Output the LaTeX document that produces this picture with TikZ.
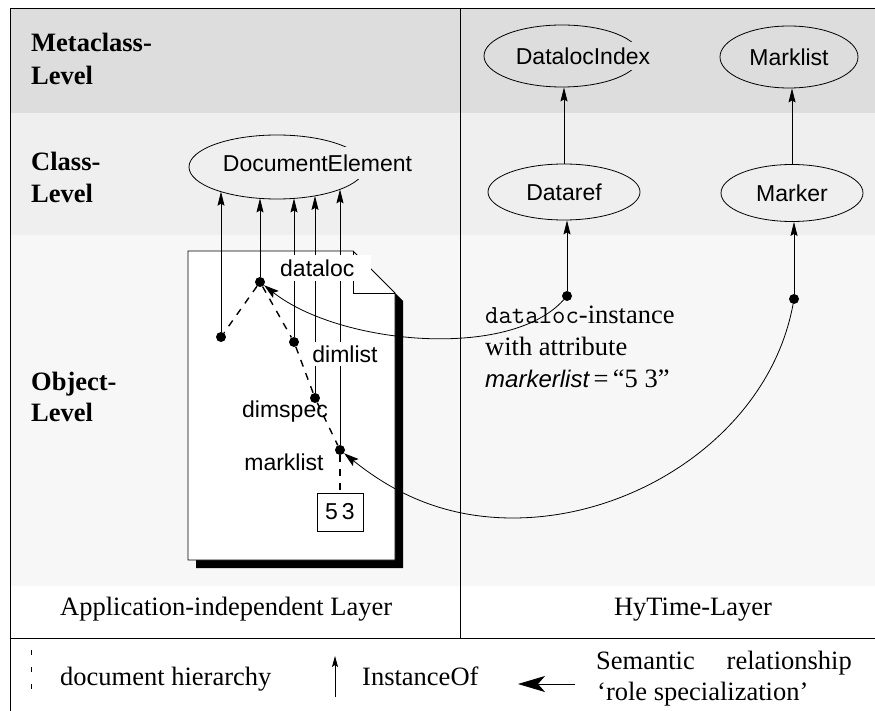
\documentclass[tikz,border=0pt]{standalone}
\usepackage{fontspec}
\setmainfont{Liberation Serif}
\setsansfont{Liberation Sans}
\usetikzlibrary{arrows.meta,shapes.geometric}
\definecolor{metagray}{RGB}{221,221,221}
\definecolor{classgray}{RGB}{239,239,239}
\definecolor{objgray}{RGB}{247,247,247}
\begin{document}
\begin{tikzpicture}[x=1pt,y=-1pt,
  sertext/.style={font=\fontsize{26.5}{30}\selectfont, inner sep=0pt},
  levellbl/.style={font=\fontsize{26.5}{30}\selectfont\bfseries, inner sep=0pt, anchor=base west},
  sanslbl/.style={font=\fontsize{23}{28}\selectfont\sffamily, inner sep=0pt},
  ell/.style={draw, ellipse, line width=0.8pt, inner sep=0pt, font=\fontsize{23}{28}\selectfont\sffamily},
  pdot/.style={circle, fill=black, inner sep=0pt, minimum size=10pt},
  inst/.style={-{Stealth[length=14pt,width=7pt,inset=2pt]}, line width=0.8pt},
  role/.style={-{Stealth[length=15pt,width=9pt,inset=3pt]}, line width=0.8pt},
  hier/.style={line width=1.4pt, dash pattern=on 7pt off 7pt},
  frameline/.style={line width=1pt}
]
\useasboundingbox (0,0) rectangle (875,711);
\clip (0,0) rectangle (875,711);
% bands
\fill[metagray] (10,9) rectangle (880,113);
\fill[classgray] (10,113) rectangle (880,235);
\fill[objgray] (10,235) rectangle (880,586);
% frame
\draw[frameline] (880,9) -- (10,9) -- (10,720);
\draw[frameline] (10,638) -- (880,638);
\draw[frameline] (460,9) -- (460,638);

% level labels
\node[levellbl] (lm1) at (31,52) {Metaclass-};
\node[levellbl] (lm2) at (31,85) {Level};
\node[levellbl] (lc1) at (31,171) {Class-};
\node[levellbl] (lc2) at (31,203) {Level};
\node[levellbl] (lo1) at (31,390) {Object-};
\node[levellbl] (lo2) at (31,421) {Level};

% class ellipses
\node[ell, minimum width=176pt, minimum height=64pt] (de) at (277,167) {};
\node[sanslbl, fill=classgray, inner xsep=1pt, inner ysep=8pt] (detext) at (317.5,163) {DocumentElement};
\node[ell, minimum width=156pt, minimum height=62pt] (dli) at (562,56) {};
\node[sanslbl, fill=metagray, inner xsep=1pt, inner ysep=6pt] (dlitext) at (583,56) {DatalocIndex};
\node[ell, minimum width=138pt, minimum height=62pt] (ml) at (789,57) {Marklist};
\node[ell, minimum width=152pt, minimum height=56pt] (dr) at (564,192) {Dataref};
\node[ell, minimum width=142pt, minimum height=57pt] (mk) at (792,193) {Marker};

\draw[inst] (dr.north) -- (dr.north |- dli.south);
\draw[inst] (mk.north) -- (mk.north |- ml.south);

% HyTime dots
\node[pdot] (s1) at (567,296) {};
\node[pdot] (s2) at (794,299) {};
\draw[inst] (s1) -- (s1 |- dr.south);
\draw[inst] (s2) -- (s2 |- mk.south);

% document page
\fill[black] (196,259) -- (361,259) -- (403,301) -- (403,568) -- (196,568) -- cycle;
\draw[fill=white, line width=0.8pt] (188,251) -- (353,251) -- (395,293) -- (395,560) -- (188,560) -- cycle;
\draw[line width=0.8pt] (353,251) -- (353,293) -- (395,293);

% element dots
\node[pdot] (A) at (260,282) {};
\node[pdot] (B) at (221,337) {};
\node[pdot] (C) at (294,342) {};
\node[pdot] (D) at (315,398) {};
\node[pdot] (E) at (340,450) {};

\coordinate (tA) at (260,198.4);
\coordinate (tB) at (221,191.7);
\coordinate (tC) at (294,198.4);
\coordinate (tD) at (315,195.9);
\coordinate (tE) at (340,189.3);
\draw[inst] (A) -- (tA);
\draw[inst] (B) -- (tB);
\draw[inst] (C) -- (tC);
\draw[inst] (D) -- (tD);
\draw[inst] (E) -- (tE);

% labels on page
\node[sanslbl, fill=white, anchor=west, text width=91pt, inner xsep=0pt, inner ysep=5pt, align=left] (ldl) at (280,268) {dataloc};
\node[sanslbl, fill=white, inner xsep=2pt, inner ysep=4pt] (ldim) at (345,354) {dimlist};
\node[sanslbl] (lds) at (285,412) {dimspec};
\node[sanslbl] (lml) at (284,462) {marklist};
\node[draw, sanslbl, minimum width=46pt, minimum height=38pt, line width=0.8pt] (box) at (340,512) {5\hspace{4pt}3};

% hierarchy
\draw[hier] (A) -- (B);
\draw[hier] (A) -- (C);
\draw[hier] (C) -- (D);
\draw[hier] (D) -- (E);
\draw[hier] (E) -- (box);

% role specialization curves
\draw[role] (s1) .. controls (510,360) and (340,345) .. (A);
\coordinate (c2) at (513,518);
\draw[role] (s2) .. controls (770,430) and (640,518) .. (c2) .. controls (440,518) and (390,490) .. (E);

% right text
\node[sertext, anchor=base west] (t1) at (485,323) {{\fontsize{26}{30}\selectfont\ttfamily dataloc}-instance};
\node[sertext, anchor=base west] (t2) at (485,355) {with attribute};
\node[sertext, anchor=base west] (t3) at (485,387) {{\fontsize{24}{28}\selectfont\sffamily\itshape markerlist}\,=\,“5 3”};

% layer labels
\node[sertext, anchor=base west] (lay1) at (60,615) {Application-independent Layer};
\node[sertext, anchor=base] (lay2) at (693,615) {HyTime-Layer};

% legend
\coordinate (lg1a) at (31,650);
\coordinate (lg1b) at (31,700);
\draw[line width=0.8pt, dash pattern=on 5pt off 12pt] (lg1a) -- (lg1b);
\node[sertext, anchor=base west] (lgt1) at (60,685) {document hierarchy};
\coordinate (lg2a) at (335,697);
\coordinate (lg2b) at (335,656);
\draw[-{Stealth[length=11pt,width=6pt,inset=2pt]}, line width=0.8pt] (lg2a) -- (lg2b);
\node[sertext, anchor=base west] (lgt2) at (362,685) {InstanceOf};
\coordinate (lg3a) at (575,684);
\coordinate (lg3b) at (518,684);
\draw[-{Stealth[length=27pt,width=16pt,inset=7pt]}, line width=0.8pt] (lg3a) -- (lg3b);
\node[sertext, anchor=base west] (lgt3a) at (596,669) {Semantic};
\node[sertext, anchor=base east] (lgt3b) at (852,669) {relationship};
\node[sertext, anchor=base west] (lgt3c) at (597,700) {‘role specialization’};
\end{tikzpicture}
\end{document}
